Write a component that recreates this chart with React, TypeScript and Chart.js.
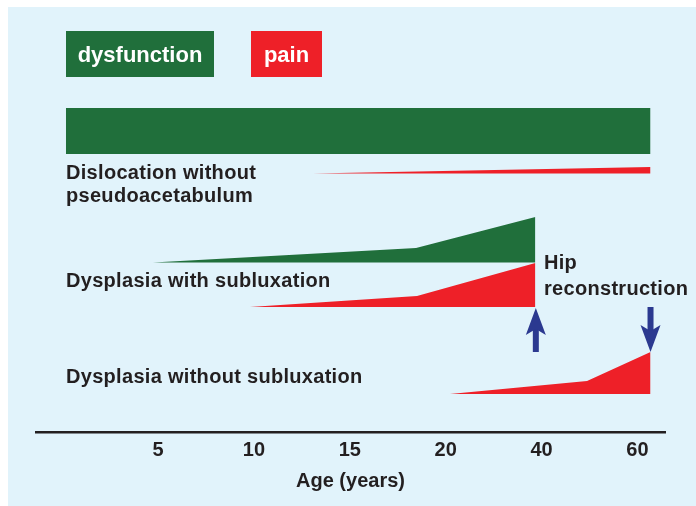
import React, { useEffect, useRef } from "react";
import { Chart, registerables } from "chart.js";

Chart.register(...registerables);

// ---- data (x in age-axis tick-index units: 0 = 5 yrs, 1 = 10, 2 = 15, 3 = 20, 4 = 40, 5 = 60) ----
const AGE_LABELS = ["5", "10", "15", "20", "40", "60"];
const AXIS_MIN = -1.272;
const AXIS_MAX = 5.287;

// Dislocation without pseudoacetabulum
const DISLOC_DYSF_X = [-0.96, 5.136];
const DISLOC_DYSF_H = [9.2, 9.2];
const DISLOC_DYSF_BASE = 55.6;
const DISLOC_PAIN_X = [1.616, 5.136];
const DISLOC_PAIN_H = [0, 1.3];
const DISLOC_PAIN_BASE = 51.7;

// Dysplasia with subluxation
const SUBLUX_DYSF_X = [-0.052, 2.691, 3.935];
const SUBLUX_DYSF_H = [0, 2.9, 9.1];
const SUBLUX_DYSF_BASE = 33.9;
const SUBLUX_PAIN_X = [0.959, 2.701, 3.935];
const SUBLUX_PAIN_H = [0, 2.2, 8.8];
const SUBLUX_PAIN_BASE = 25.0;

// Dysplasia without subluxation
const NOSUB_PAIN_X = [3.045, 4.474, 5.136];
const NOSUB_PAIN_H = [0, 2.6, 8.4];
const NOSUB_PAIN_BASE = 7.6;

// Hip reconstruction arrows
const ARROW_X = [3.94, 5.136];
const ARROW_FROM = [16, 25];
const ARROW_TO = [24.8, 16];

// ---- styles ----
const GREEN = "#206f3b";
const RED = "#ee2028";
const TEXT = "#231f20";
const ARROW_BLUE = "#2b3990";
const BG = "#e1f3fb";
const FONT = '"Liberation Sans", Arial, Helvetica, sans-serif';

const LEGEND = [
  { text: "dysfunction", color: GREEN, x: 66, y: 31, w: 148, h: 46 },
  { text: "pain", color: RED, x: 251, y: 31, w: 71, h: 46 },
];

const LABELS = [
  { text: "Dislocation without", x: 66, y: 178.5 },
  { text: "pseudoacetabulum", x: 66, y: 202 },
  { text: "Dysplasia with subluxation", x: 66, y: 287 },
  { text: "Dysplasia without subluxation", x: 66, y: 383 },
  { text: "Hip", x: 544, y: 268.5 },
  { text: "reconstruction", x: 544, y: 294.5 },
];

function area(label: string, xs: number[], hs: number[], base: number, color: string) {
  return {
    label,
    type: "line" as const,
    data: xs.map((x, i) => ({ x, y: base + hs[i] })),
    borderColor: "transparent",
    borderWidth: 0,
    backgroundColor: color,
    pointRadius: 0,
    tension: 0,
    fill: { value: base },
  };
}

function drawArrow(ctx: CanvasRenderingContext2D, x: number, y0: number, y1: number) {
  const dir = Math.sign(y1 - y0);
  const headLen = 27;
  const half = 10;
  const notch = 6;
  const shaft = 3;
  const baseY = y1 - dir * headLen;
  ctx.fillStyle = ARROW_BLUE;
  ctx.beginPath();
  ctx.moveTo(x - shaft, y0);
  ctx.lineTo(x + shaft, y0);
  ctx.lineTo(x + shaft, baseY + dir * (notch + 1));
  ctx.lineTo(x - shaft, baseY + dir * (notch + 1));
  ctx.closePath();
  ctx.fill();
  ctx.beginPath();
  ctx.moveTo(x, y1);
  ctx.lineTo(x + half, baseY);
  ctx.lineTo(x, baseY + dir * notch);
  ctx.lineTo(x - half, baseY);
  ctx.closePath();
  ctx.fill();
}

const annotations = {
  id: "annotations",
  afterDatasetsDraw(chart: any) {
    const ctx: CanvasRenderingContext2D = chart.ctx;
    const xs = chart.scales.x;
    const ys = chart.scales.y;
    ctx.save();
    // legend boxes
    LEGEND.forEach((l) => {
      ctx.fillStyle = l.color;
      ctx.fillRect(l.x, l.y, l.w, l.h);
      ctx.fillStyle = "#ffffff";
      ctx.font = `bold 22px ${FONT}`;
      ctx.textAlign = "center";
      ctx.textBaseline = "alphabetic";
      ctx.fillText(l.text, l.x + l.w / 2, l.y + 31.3);
    });
    // labels
    ctx.fillStyle = TEXT;
    ctx.font = `bold 20px ${FONT}`;
    (ctx as any).letterSpacing = "0.3px";
    ctx.textAlign = "left";
    ctx.textBaseline = "alphabetic";
    LABELS.forEach((l) => ctx.fillText(l.text, l.x, l.y));
    (ctx as any).letterSpacing = "0px";
    // arrows
    ARROW_X.forEach((v, i) => {
      drawArrow(ctx, xs.getPixelForValue(v), ys.getPixelForValue(ARROW_FROM[i]), ys.getPixelForValue(ARROW_TO[i]));
    });
    ctx.restore();
  },
};

export default function App() {
  const ref = useRef<HTMLCanvasElement>(null);
  useEffect(() => {
    if (!ref.current) return;
    const chart = new Chart(ref.current, {
      type: "line",
      data: {
        datasets: [
          area("Dislocation dysfunction", DISLOC_DYSF_X, DISLOC_DYSF_H, DISLOC_DYSF_BASE, GREEN),
          area("Dislocation pain", DISLOC_PAIN_X, DISLOC_PAIN_H, DISLOC_PAIN_BASE, RED),
          area("Subluxation dysfunction", SUBLUX_DYSF_X, SUBLUX_DYSF_H, SUBLUX_DYSF_BASE, GREEN),
          area("Subluxation pain", SUBLUX_PAIN_X, SUBLUX_PAIN_H, SUBLUX_PAIN_BASE, RED),
          area("No subluxation pain", NOSUB_PAIN_X, NOSUB_PAIN_H, NOSUB_PAIN_BASE, RED),
        ] as any,
      },
      options: {
        animation: false,
        responsive: false,
        events: [],
        layout: { padding: { left: 36, right: 31, top: 22, bottom: 9 } },
        plugins: { legend: { display: false }, tooltip: { enabled: false } },
        scales: {
          x: {
            type: "linear",
            min: AXIS_MIN,
            max: AXIS_MAX,
            afterBuildTicks: (scale: any) => {
              scale.ticks = AGE_LABELS.map((_, i) => ({ value: i }));
            },
            grid: { display: false, drawTicks: false },
            border: { display: true, color: TEXT, width: 2.5 },
            ticks: {
              autoSkip: false,
              maxRotation: 0,
              padding: 6,
              color: TEXT,
              font: { family: FONT, size: 20, weight: "bold" },
              callback: (_v: any, i: number) => AGE_LABELS[i],
            },
            title: {
              display: true,
              text: "Age (years)",
              color: TEXT,
              font: { family: FONT, size: 20, weight: "bold" },
              padding: { top: 1, bottom: 4 },
            },
          },
          y: { type: "linear", display: false, min: 0, max: 82 },
        },
      },
      plugins: [annotations],
    });
    return () => chart.destroy();
  }, []);
  return (
    <div style={{ position: "fixed", left: 0, top: 0, width: 696, height: 506, background: "#ffffff" }}>
      <div style={{ position: "absolute", left: 8, top: 7, right: 0, bottom: 0, background: BG }} />
      <canvas ref={ref} width={696} height={506} style={{ position: "absolute", left: 0, top: 0, width: 696, height: 506 }} />
    </div>
  );
}
